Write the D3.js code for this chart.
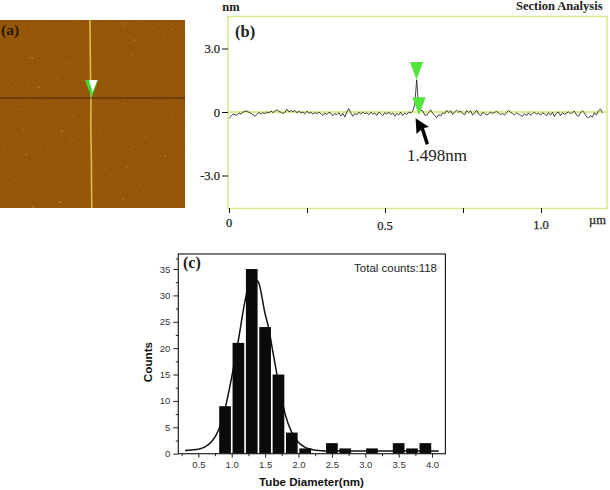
<!DOCTYPE html>
<html><head><meta charset="utf-8">
<script src="https://cdn.jsdelivr.net/npm/d3@7"></script>
<style>html,body{margin:0;padding:0;background:#fff}svg{display:block}</style>
</head><body><svg id="c" width="610" height="490"></svg>
<script>
// (a) AFM image, in image pixels
const afmSpecks=[[123,24],[134,40],[172,29],[32,58],[132,55],[52,67],[70,62],[11,88],[39,87],[57,78],[19,110],[45,125],[62,131],[72,117],[23,130],[123,103],[72,140],[26,154],[165,156],[127,167],[60,202],[123,199],[145,138],[33,207],[133,147],[163,38],[150,92],[110,175],[140,185],[15,180]];
const speckAlpha=[.8,.8,.5,.9,.5,.4,.4,.5,.6,.4,.4,.4,.8,.5,.4,.4,.5,.6,.6,.5,.9,.6,.4,.7,.4,.4,.3,.3,.3,.3];
const tubeTrace=[[90,20],[90.2,50],[90.6,80],[91,98],[90.8,125],[91.4,160],[91.6,190],[91.8,208]];
const scanLineY=98;
const afmMarker=[[85,80],[98,80],[91.7,97.7]];
const afmMarkerCore=[[89,80],[97.5,80],[92.5,92]];
// (b) section profile
const profileStep=0.0064;
const profile=[-0.3,-0.2,-0.1,-0.13,-0.15,-0.04,-0.1,0,0.02,0.05,-0.02,-0.06,-0.13,-0.2,-0.1,-0.02,-0.1,-0.03,-0.08,0,-0.05,0.05,-0.03,0.05,0.1,0.02,-0.01,-0.07,-0.02,0.13,0,0.07,0.01,0.08,-0.04,0.05,-0.05,0,-0.08,0.04,-0.06,-0.01,-0.1,-0.03,-0.08,-0.01,-0.08,-0.16,-0.05,-0.12,-0.01,-0.06,-0.18,-0.08,-0.13,-0.03,-0.19,-0.06,-0.24,0,0.16,-0.04,-0.2,-0.07,-0.14,-0.01,-0.1,0,-0.08,-0.04,-0.13,-0.01,-0.1,-0.05,-0.16,-0.01,-0.08,-0.17,-0.03,-0.1,0,-0.12,-0.05,-0.2,-0.07,-0.14,-0.01,-0.17,-0.05,-0.12,0,-0.05,0.04,0.35,1.52,0.2,0.08,0.06,-0.14,-0.16,-0.02,0.1,-0.06,-0.16,-0.27,-0.12,-0.19,-0.04,-0.08,0.08,-0.03,0.05,-0.11,0,0.08,-0.01,0.05,-0.07,-0.14,0.07,-0.03,0.06,-0.15,-0.04,0.09,-0.1,-0.18,-0.02,-0.06,-0.14,-0.09,-0.02,-0.06,-0.02,0.03,-0.05,-0.12,-0.07,-0.15,-0.02,0.07,-0.01,-0.08,-0.14,-0.05,-0.11,-0.15,-0.2,-0.08,-0.18,-0.04,-0.15,-0.07,-0.01,-0.11,-0.05,-0.15,-0.03,-0.1,-0.17,-0.03,-0.15,-0.01,-0.21,-0.05,0,-0.18,-0.03,-0.11,-0.05,0.01,-0.09,-0.02,0.04,-0.14,-0.2,-0.05,0.05,-0.04,-0.22,-0.27,-0.18,-0.24,-0.03,-0.15,0.05,0.14,-0.04];
const markerTips=[[0.601,1.52],[0.609,-0.14]];
const sectionYTicks=[3,0,-3];
const sectionYLabels=["3.0","0","-3.0"];
const sectionXTicks=[0,0.25,0.5,0.75,1.0];
const sectionXLabels=[[0,"0",227],[0.5,"0.5",230],[1.0,"1.0",229]];
const arrowPts=[[0.598,-0.3],[0.601,-1.04],[0.615,-0.85],[0.631,-1.56],[0.641,-1.49],[0.625,-0.76],[0.641,-0.71]];
// (c) histogram
const binCentres=[0.9,1.1,1.3,1.5,1.7,1.9,2.1,2.5,2.7,3.1,3.5,3.7,3.9];
const binCounts=[9,21,35,24,15,4,1,2,1,1,2,1,2];
const fitX=[0.3,0.4,0.5,0.6,0.7,0.8,0.9,1.0,1.1,1.2,1.3,1.4,1.5,1.55,1.6,1.7,1.8,1.9,2.0,2.1,2.2,2.3,2.5,3,3.5,4,4.1];
const fitY=[0.6,0.7,0.85,1.3,2.3,4.4,8.5,14.5,21.5,29,33.5,32.5,26.5,24,20.5,13.5,7.5,4,2.1,1.2,0.8,0.6,0.5,0.5,0.5,0.5,0.5];
const histXTicks=[0.5,1,1.5,2,2.5,3,3.5,4];
const histXMinor=[0.25,0.75,1.25,1.75,2.25,2.75,3.25,3.75];
const histYTicks=[0,5,10,15,20,25,30,35];
const histYMinor=[2.5,7.5,12.5,17.5,22.5,27.5,32.5,37];

const SERIF='"Liberation Serif",serif', SANS='"Liberation Sans",Arial,sans-serif';
const svg=d3.select('#c');
const defs=svg.append('defs');
const f=defs.append('filter').attr('id','grain').attr('x',0).attr('y',0).attr('width','100%').attr('height','100%');
f.append('feTurbulence').attr('type','fractalNoise').attr('baseFrequency',0.55).attr('numOctaves',2).attr('seed',4);
f.append('feColorMatrix').attr('type','matrix').attr('values','0 0 0 0 0.36  0 0 0 0 0.17  0 0 0 0 0  1.6 0 0 0 -0.62');
const b=defs.append('filter').attr('id','soft').attr('x','-50%').attr('y','-5%').attr('width','200%').attr('height','110%');
b.append('feGaussianBlur').attr('stdDeviation',0.5);

// ---- panel a
const ax=d3.scaleLinear().domain([0,185]).range([0,185]);
const ay=d3.scaleLinear().domain([20,208]).range([20,208]);
const a=svg.append('g');
a.append('rect').attr('x',ax(0)).attr('y',ay(20)).attr('width',ax(185)-ax(0)).attr('height',ay(208)-ay(20)).attr('fill','#94530a');
a.append('rect').attr('x',ax(0)).attr('y',ay(20)).attr('width',ax(185)-ax(0)).attr('height',ay(208)-ay(20)).attr('filter','url(#grain)').attr('opacity',.6);
a.selectAll('circle').data(afmSpecks).join('circle').attr('cx',d=>ax(d[0])).attr('cy',d=>ay(d[1])).attr('r',.75).attr('fill','#d8a850').attr('opacity',(d,i)=>speckAlpha[i]);
a.append('path').attr('d',d3.line().x(d=>ax(d[0])).y(d=>ay(d[1]))(tubeTrace)).attr('fill','none').attr('stroke','#d8bb4c').attr('stroke-width',1.6).attr('filter','url(#soft)');
a.append('line').attr('x1',ax(0)).attr('x2',ax(185)).attr('y1',ay(scanLineY)).attr('y2',ay(scanLineY)).attr('stroke','#4a2606').attr('stroke-width',1.2);
const pts=p=>p.map(d=>[ax(d[0]),ay(d[1])].join(',')).join(' ');
a.append('polygon').attr('points',pts(afmMarker)).attr('fill','#46d838');
a.append('polygon').attr('points',pts(afmMarkerCore)).attr('fill','#fff');
a.append('text').attr('x',1).attr('y',35).text('(a)').attr('font-family',SERIF).attr('font-weight','bold').attr('font-size',15.5).attr('fill','#2a1a08');

// ---- panel b
const bx=d3.scaleLinear().domain([0,1.2115]).range([229,607]);
const by=d3.scaleLinear().domain([3,-3]).range([48.5,175.5]);
const GREEN='#d6ea8c';
const B=svg.append('g');
B.append('line').attr('x1',228).attr('x2',607).attr('y1',by(0)).attr('y2',by(0)).attr('stroke','#dcec9c').attr('stroke-width',2.5);
B.append('rect').attr('x',228).attr('y',16.5).attr('width',379).attr('height',192).attr('fill','none').attr('stroke',GREEN).attr('stroke-width',1.5);
B.append('path').attr('d',d3.line().x((d,i)=>bx(i*profileStep)).y(d=>by(d))(profile)).attr('fill','none').attr('stroke','#222').attr('stroke-width',.85);
const yAxB=B.append('g').attr('transform','translate(228,0)').call(d3.axisLeft(by).tickValues(sectionYTicks).tickFormat((d,i)=>sectionYLabels[i]).tickSize(6).tickPadding(2));
const xAxB=B.append('g').attr('transform','translate(0,208)').call(d3.axisBottom(bx).tickValues(sectionXTicks).tickFormat('').tickSize(5));
[yAxB,xAxB].forEach(g=>{g.select('.domain').remove();g.selectAll('line').attr('stroke','#111');});
yAxB.selectAll('text').attr('font-family',SERIF).attr('font-size',12.5).attr('stroke','#222').attr('stroke-width',.25).attr('fill','#222');
B.selectAll('.xl').data(sectionXLabels).join('text').attr('class','xl').attr('x',d=>bx(d[0])).attr('y',d=>d[2]).attr('text-anchor','middle').text(d=>d[1]).attr('font-family',SERIF).attr('font-size',12.5).attr('stroke','#222').attr('stroke-width',.25).attr('fill','#222');
const tri=(t,w,h)=>[[bx(t[0])-w,by(t[1])-h],[bx(t[0])+w,by(t[1])-h],[bx(t[0]),by(t[1])]].join(' ');
B.selectAll('.mk').data(markerTips).join('polygon').attr('class','mk').attr('points',d=>tri(d,6.6,17.8)).attr('fill','#52e63c');
B.append('polygon').attr('points',arrowPts.map(d=>[bx(d[0]),by(d[1])].join(',')).join(' ')).attr('fill','#000');
B.append('text').attr('x',407).attr('y',161).text('1.498nm').attr('font-family',SERIF).attr('font-size',17).attr('fill','#222');
B.append('text').attr('x',231).attr('y',11).attr('text-anchor','middle').text('nm').attr('font-family',SERIF).attr('font-size',12.5).attr('font-weight','bold').attr('fill','#222');
B.append('text').attr('x',602.5).attr('y',10).attr('text-anchor','end').text('Section Analysis').attr('font-family',SERIF).attr('font-size',12.5).attr('font-weight','bold').attr('fill','#222');
B.append('text').attr('x',235).attr('y',37).text('(b)').attr('font-family',SERIF).attr('font-size',16.5).attr('font-weight','bold').attr('fill','#222');
B.append('text').attr('x',589).attr('y',224).text('µm').attr('font-family',SERIF).attr('font-size',12.5).attr('stroke','#222').attr('stroke-width',.25).attr('fill','#222');

// ---- panel c
const cx=d3.scaleLinear().domain([0.2,4.2]).range([178.3,445.4]);
const cy=d3.scaleLinear().domain([0,35]).range([453.7,269]);
const C=svg.append('g');
const barW=cx(0.175)-cx(0);
C.append('path').attr('d',d3.line().x((d,i)=>cx(fitX[i])).y(d=>cy(d)).curve(d3.curveMonotoneX)(fitY)).attr('fill','none').attr('stroke','#111').attr('stroke-width',1.5);
C.selectAll('.bar').data(binCentres).join('rect').attr('class','bar').attr('x',d=>cx(d)-barW/2).attr('width',barW).attr('y',(d,i)=>cy(binCounts[i])).attr('height',(d,i)=>cy(0)-cy(binCounts[i])).attr('fill','#0a0a0a');
C.append('rect').attr('x',178.3).attr('y',254).attr('width',267.1).attr('height',199.7).attr('fill','none').attr('stroke','#222').attr('stroke-width',1.2);
const styleAxis=g=>{g.select('.domain').remove();g.selectAll('line').attr('stroke','#222');g.selectAll('text').attr('font-family',SANS).attr('font-size',9.5).attr('fill','#333');};
C.append('g').attr('transform','translate(0,453.7)').call(d3.axisBottom(cx).tickValues(histXTicks).tickFormat(d3.format('.1f')).tickSize(4).tickPadding(4)).call(styleAxis);
C.append('g').attr('transform','translate(0,453.7)').call(d3.axisBottom(cx).tickValues(histXMinor).tickFormat('').tickSize(2.5)).call(styleAxis);
C.append('g').attr('transform','translate(178.3,0)').call(d3.axisLeft(cy).tickValues(histYTicks).tickFormat(d3.format('d')).tickSize(5).tickPadding(3)).call(styleAxis);
C.append('g').attr('transform','translate(178.3,0)').call(d3.axisLeft(cy).tickValues(histYMinor).tickFormat('').tickSize(2.5)).call(styleAxis);
C.append('text').attr('x',183).attr('y',268).text('(c)').attr('font-family',SERIF).attr('font-size',16).attr('font-weight','bold').attr('fill','#222');
C.append('text').attr('x',437).attr('y',271.5).attr('text-anchor','end').text('Total counts:118').attr('font-family',SANS).attr('font-size',11.5).attr('fill','#222');
C.append('text').attr('x',311.5).attr('y',486).attr('text-anchor','middle').text('Tube Diameter(nm)').attr('font-family',SANS).attr('font-size',11.6).attr('font-weight','bold').attr('fill','#111');
C.append('text').attr('transform','translate(152,362) rotate(-90)').attr('text-anchor','middle').text('Counts').attr('font-family',SANS).attr('font-size',11.7).attr('font-weight','bold').attr('fill','#111');
</script></body></html>
